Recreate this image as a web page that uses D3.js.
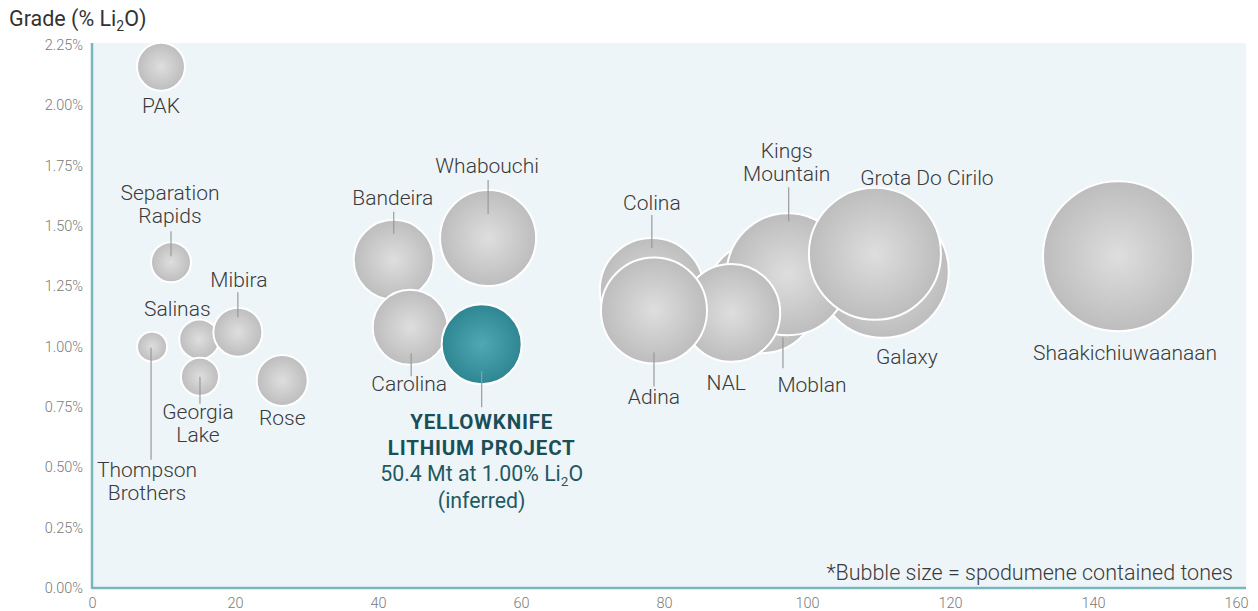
<!DOCTYPE html>
<html>
<head>
<meta charset="utf-8">
<script src="https://cdn.jsdelivr.net/npm/d3@7"></script>
<style>
  html, body { margin: 0; padding: 0; background: #ffffff; }
  svg { display: block; font-family: Roboto, "Noto Sans", sans-serif; }
</style>
</head>
<body>
<svg id="chart" width="1258" height="611"></svg>
<script>
// ---------------- DATA ----------------
const names = ["PAK", "Separation Rapids", "Thompson Brothers", "Salinas", "Mibira", "Georgia Lake", "Rose",
  "Bandeira", "Carolina", "Whabouchi", "Yellowknife",
  "Galaxy", "Colina", "Moblan", "Kings Mountain", "NAL", "Adina", "Grota Do Cirilo", "Shaakichiuwaanaan"];
const tonnage = [9.65, 11.05, 8.4, 15.0, 20.4, 15.1, 26.6,
  42.2, 44.5, 55.4, 54.5,
  110.6, 78.3, 93.7, 97.3, 89.4, 78.6, 109.5, 143.5];
const grade = [2.16, 1.35, 1.00, 1.03, 1.06, 0.875, 0.86,
  1.36, 1.08, 1.45, 1.01,
  1.31, 1.235, 1.205, 1.30, 1.14, 1.15, 1.385, 1.375];
const contained = [181, 126, 71, 126, 189, 114, 205,
  504, 443, 726, 504,
  1372, 852, 988, 1172, 756, 885, 1372, 1772];
const labelText = {
  "PAK": ["PAK"], "Separation Rapids": ["Separation", "Rapids"], "Thompson Brothers": ["Thompson", "Brothers"],
  "Salinas": ["Salinas"], "Mibira": ["Mibira"], "Georgia Lake": ["Georgia", "Lake"], "Rose": ["Rose"],
  "Bandeira": ["Bandeira"], "Carolina": ["Carolina"], "Whabouchi": ["Whabouchi"],
  "Galaxy": ["Galaxy"], "Colina": ["Colina"], "Moblan": ["Moblan"], "Kings Mountain": ["Kings", "Mountain"],
  "NAL": ["NAL"], "Adina": ["Adina"], "Grota Do Cirilo": ["Grota Do Cirilo"], "Shaakichiuwaanaan": ["Shaakichiuwaanaan"]
};
const highlight = "Yellowknife";
const highlightTitle = ["YELLOWKNIFE", "LITHIUM PROJECT"];
const highlightNote = ["50.4 Mt at 1.00% Li", "2", "O", "(inferred)"];
const xTicks = [0, 20, 40, 60, 80, 100, 120, 140, 160];
const yTicks = [0, 0.25, 0.5, 0.75, 1.0, 1.25, 1.5, 1.75, 2.0, 2.25];
const yTitle = ["Grade (% Li", "2", "O)"];
const footnote = "*Bubble size = spodumene contained tones";

// ---------------- LAYOUT (label offsets in px relative to bubble centre) ----------------
const layout = {
  "PAK": { dx: 0, dy: 46 },
  "Separation Rapids": { dx: -1, dy: -62, lead: [0, -31, -6] },
  "Thompson Brothers": { dx: -5, dy: 130, lead: [-1, 1, 113] },
  "Salinas": { dx: -22, dy: -23 },
  "Mibira": { dx: 1, dy: -45, lead: [0, -40, -15] },
  "Georgia Lake": { dx: -2, dy: 42, lead: [0, 0, 27] },
  "Rose": { dx: 0, dy: 45 },
  "Bandeira": { dx: -1, dy: -55, lead: [0, -48, -26] },
  "Carolina": { dx: -1, dy: 64, lead: [1, 26, 49] },
  "Whabouchi": { dx: -1, dy: -65, lead: [0, -58, -24] },
  "Yellowknife": { dx: 0, dy: 85, lead: [0, 27, 63] },
  "Colina": { dx: 0, dy: -80, lead: [0, -75, -42] },
  "Adina": { dx: 0, dy: 94, lead: [0, 42, 76] },
  "NAL": { dx: -5, dy: 77 },
  "Moblan": { dx: 50, dy: 95, lead: [21, 40, 71] },
  "Kings Mountain": { dx: -1, dy: -116, lead: [1, -87, -53] },
  "Grota Do Cirilo": { dx: 52, dy: -69 },
  "Galaxy": { dx: 24, dy: 92 },
  "Shaakichiuwaanaan": { dx: 7, dy: 104 }
};
const lineGap = 23;
const labelSize = 21;

// ---------------- CHART ----------------
const svg = d3.select("#chart");
const x = d3.scaleLinear().domain([0, 160]).range([92, 1236]);
const y = d3.scaleLinear().domain([0, 2.25]).range([588, 45]);
const r = d3.scaleSqrt().domain([0, d3.max(contained)]).range([0, 75]);

const defs = svg.append("defs");
const gGrey = defs.append("radialGradient").attr("id", "gGrey").attr("cx", "50%").attr("cy", "50%").attr("r", "50%");
gGrey.append("stop").attr("offset", "0%").attr("stop-color", "#dedede");
gGrey.append("stop").attr("offset", "100%").attr("stop-color", "#bdbdbd");
const gTeal = defs.append("radialGradient").attr("id", "gTeal").attr("cx", "50%").attr("cy", "50%").attr("r", "50%");
gTeal.append("stop").attr("offset", "0%").attr("stop-color", "#50a8b4");
gTeal.append("stop").attr("offset", "100%").attr("stop-color", "#2d8692");

// panel
svg.append("rect").attr("x", x(0)).attr("y", 43).attr("width", 1246 - x(0)).attr("height", y(0) - 43)
  .attr("fill", "#eef5f8");

// axes
const xAxis = d3.axisBottom(x).tickValues(xTicks).tickSize(0).tickPadding(10).tickFormat(d3.format("d"));
const gx = svg.append("g").attr("transform", `translate(0,${y(0)})`).call(xAxis);
gx.select(".domain").remove();
gx.selectAll("text").attr("font-size", 14.5).attr("fill", "#7a7a7a").attr("font-family", "Roboto").attr("font-weight", 300);

const yAxis = d3.axisLeft(y).tickValues(yTicks).tickSize(0).tickPadding(9).tickFormat(d => d3.format(".2f")(d) + "%");
const gy = svg.append("g").attr("transform", `translate(${x(0)},0)`).call(yAxis);
gy.select(".domain").remove();
gy.selectAll("text").attr("font-size", 14.5).attr("fill", "#7a7a7a").attr("font-family", "Roboto").attr("font-weight", 300);

svg.append("line").attr("x1", x(0)).attr("x2", 1246).attr("y1", y(0)).attr("y2", y(0))
  .attr("stroke", "#7ab6bd").attr("stroke-width", 2.5);
svg.append("line").attr("x1", x(0)).attr("x2", x(0)).attr("y1", 43).attr("y2", y(0) + 1)
  .attr("stroke", "#7ab6bd").attr("stroke-width", 2.5);

// y title
const yt = svg.append("text").attr("x", 9).attr("y", 26).attr("font-size", 21.5).attr("fill", "#333");
yt.append("tspan").text(yTitle[0]);
yt.append("tspan").attr("font-size", 14).attr("dy", 5).text(yTitle[1]);
yt.append("tspan").attr("dy", -5).text(yTitle[2]);

// bubbles
const data = names.map((n, i) => ({ name: n, tx: tonnage[i], g: grade[i], c: contained[i] }));
svg.append("g").selectAll("circle").data(data).join("circle")
  .attr("cx", d => x(d.tx)).attr("cy", d => y(d.g)).attr("r", d => r(d.c))
  .attr("fill", d => d.name === highlight ? "url(#gTeal)" : "url(#gGrey)")
  .attr("stroke", "#ffffff").attr("stroke-width", 2);

// leader lines
svg.append("g").selectAll("line").data(data.filter(d => layout[d.name] && layout[d.name].lead)).join("line")
  .attr("x1", d => x(d.tx) + layout[d.name].lead[0]).attr("x2", d => x(d.tx) + layout[d.name].lead[0])
  .attr("y1", d => y(d.g) + layout[d.name].lead[1]).attr("y2", d => y(d.g) + layout[d.name].lead[2])
  .attr("stroke", "#9a9a9a").attr("stroke-width", 1.2);

// labels
const lg = svg.append("g");
data.filter(d => labelText[d.name]).forEach(d => {
  const L = layout[d.name];
  labelText[d.name].forEach((s, i) => {
    lg.append("text").attr("text-anchor", "middle").attr("font-size", labelSize).attr("font-weight", 300)
      .attr("fill", "#3a3a3a")
      .attr("x", x(d.tx) + L.dx).attr("y", y(d.g) + L.dy + i * lineGap).text(s);
  });
});

// highlight label
const hd = data.find(d => d.name === highlight);
const hL = layout[highlight];
const hx = x(hd.tx) + hL.dx, hy = y(hd.g) + hL.dy;
highlightTitle.forEach((s, i) => {
  lg.append("text").attr("x", hx).attr("y", hy + i * 25.5).attr("text-anchor", "middle")
    .attr("font-size", 20.5).attr("font-weight", 700).attr("letter-spacing", 0.8).attr("fill", "#1b4f57").text(s);
});
const hn = lg.append("text").attr("x", hx).attr("y", hy + 52).attr("text-anchor", "middle")
  .attr("font-size", 21.3).attr("fill", "#1e5a62");
hn.append("tspan").text(highlightNote[0]);
hn.append("tspan").attr("font-size", 13.5).attr("dy", 5).text(highlightNote[1]);
hn.append("tspan").attr("dy", -5).text(highlightNote[2]);
lg.append("text").attr("x", hx).attr("y", hy + 79).attr("text-anchor", "middle")
  .attr("font-size", 21.3).attr("fill", "#1e5a62").text(highlightNote[3]);

// footnote
svg.append("text").attr("x", 1233).attr("y", 580).attr("text-anchor", "end")
  .attr("font-size", 21.5).attr("font-weight", 300).attr("fill", "#3a3a3a").text(footnote);
</script>
</body>
</html>
